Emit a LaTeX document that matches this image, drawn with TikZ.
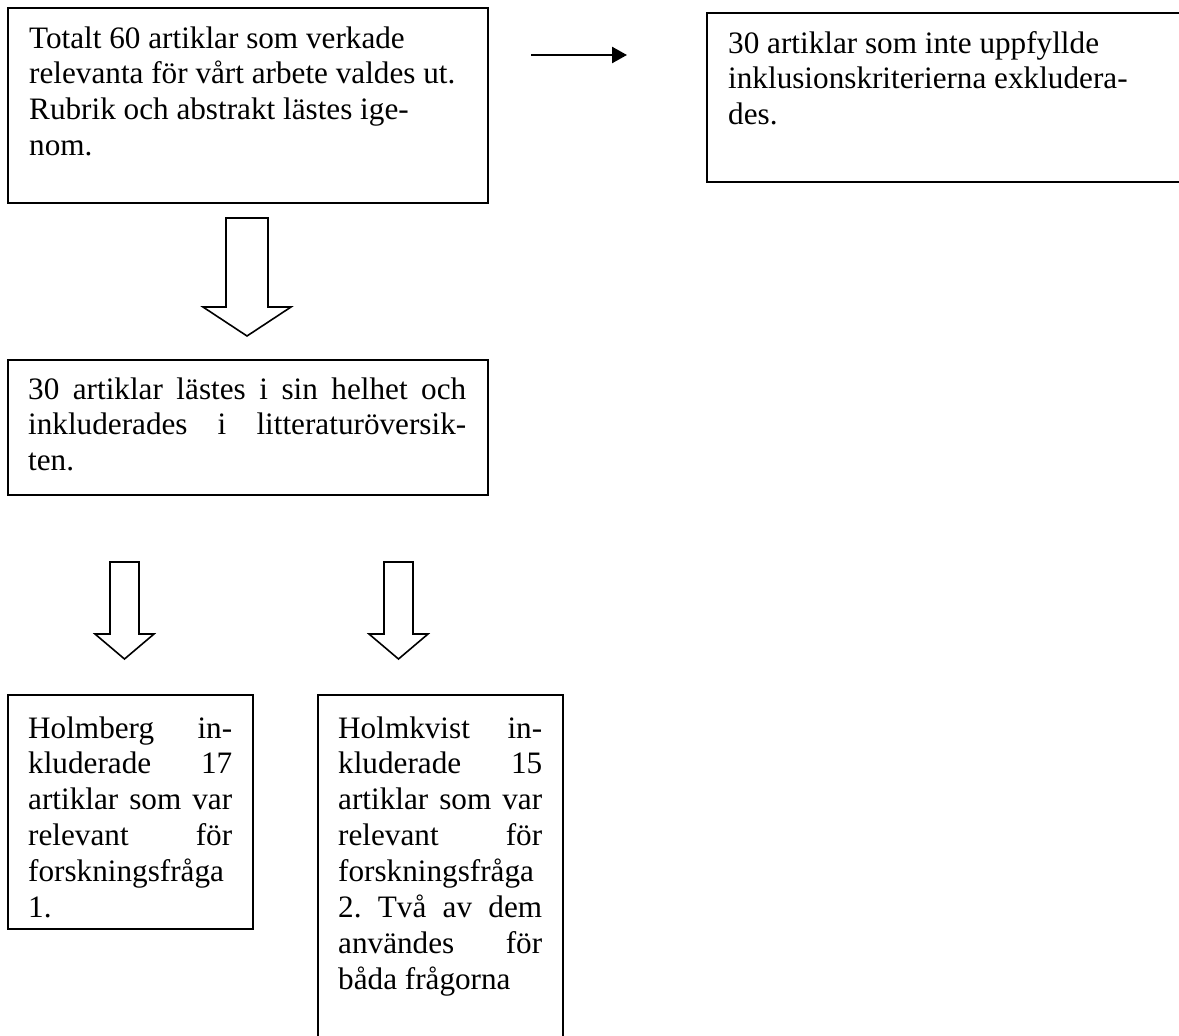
\documentclass[tikz,border=0pt]{standalone}
\usepackage{fontspec}
\setmainfont{Liberation Serif}
\usetikzlibrary{arrows.meta}
\newcommand{\jl}[2]{\makebox[#1][s]{#2}}
\frenchspacing
\begin{document}
\begin{tikzpicture}[x=1pt,y=-1pt,
  box/.style={draw=black, line width=2pt, anchor=north west, inner sep=0pt, outer sep=0pt},
  txt/.style={inner sep=0pt, anchor=base west, align=left, font=\fontsize{31.2}{35.9}\selectfont},
  blockarrow/.style={draw=black, line width=1.6pt, line join=miter, fill=white},
  harrow/.style={line width=2.5pt, -{Triangle[length=15pt,width=16pt]}}]

\useasboundingbox (0,0) rectangle (1179,1036);
\clip (0,0) rectangle (1179,1036);
\fill[white] (0,0) rectangle (1179,1036);

% boxes
\node[box, minimum width=480pt, minimum height=195pt] (b1) at (8,8) {};
\node[box, minimum width=476pt, minimum height=169pt] (b2) at (707,13) {};
\node[box, minimum width=480pt, minimum height=135pt] (b3) at (8,360) {};
\node[box, minimum width=245pt, minimum height=234pt] (b4) at (8,695) {};
\node[box, minimum width=245pt, minimum height=350pt] (b5) at (318,695) {};

% texts (anchored at the baseline of their last line)
\node[txt] (t1) at (29,155.7) {Totalt 60 artiklar som verkade\\relevanta för vårt arbete valdes ut.\\Rubrik och abstrakt lästes ige-\\nom.};
\node[txt] (t2) at (728,124.8) {30 artiklar som inte uppfyllde\\inklusionskriterierna exkludera-\\des.};
\node[txt] (t3) at (28,470.8) {\jl{438pt}{30 artiklar lästes i sin helhet och}\\\jl{438pt}{inkluderades i litteraturöversik-}\\ten.};
\node[txt] (t4) at (28,917.5) {\jl{204pt}{Holmberg in-}\\\jl{204pt}{kluderade 17}\\\jl{204pt}{artiklar som var}\\\jl{204pt}{relevant för}\\forskningsfråga\\1.};
\node[txt] (t5) at (338,989.3) {\jl{204pt}{Holmkvist in-}\\\jl{204pt}{kluderade 15}\\\jl{204pt}{artiklar som var}\\\jl{204pt}{relevant för}\\forskningsfråga\\\jl{204pt}{2. Två av dem}\\\jl{204pt}{användes för}\\båda frågorna};

% horizontal arrow
\coordinate (hs) at (531,55);
\coordinate (he) at (627,55);
\draw[harrow] (hs) -- (he);

% block arrows
\draw[blockarrow] (226,218) -- (226,307) -- (203,307) -- (247,336) -- (291,307) -- (268,307) -- (268,218) -- cycle;
\draw[blockarrow] (110,562) -- (110,634) -- (95,634) -- (124.5,659) -- (154,634) -- (139,634) -- (139,562) -- cycle;
\draw[blockarrow] (384,562) -- (384,634) -- (369,634) -- (398.5,659) -- (428,634) -- (413,634) -- (413,562) -- cycle;
\end{tikzpicture}
\end{document}
